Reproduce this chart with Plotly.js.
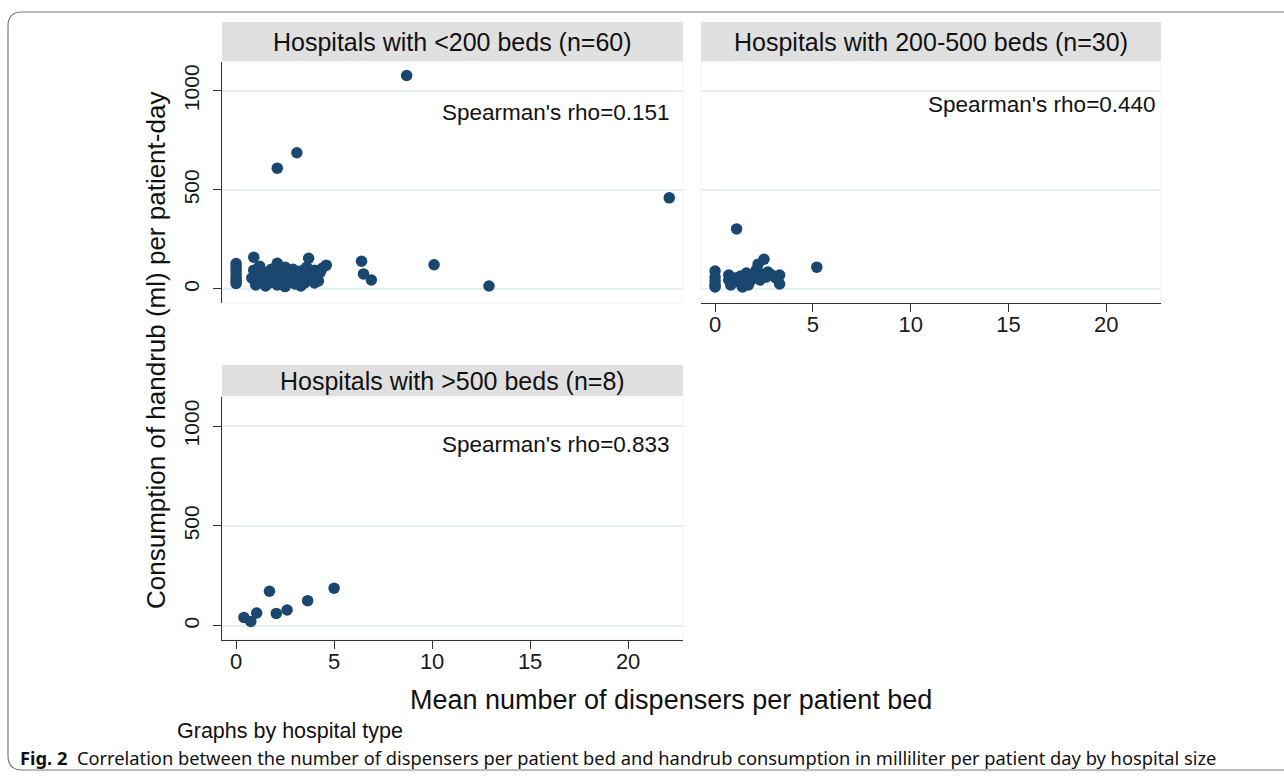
<!DOCTYPE html>
<html>
<head>
<meta charset="utf-8">
<script src="https://cdn.plot.ly/plotly-3.0.1.min.js"></script>
<style>html,body{margin:0;padding:0;background:#fff;}#chart{width:1284px;height:782px;}</style>
</head>
<body>
<div id="chart"></div>
<script>
// Panel titles and Spearman annotations
const panelTitles = ["Hospitals with &lt;200 beds (n=60)", "Hospitals with 200-500 beds (n=30)", "Hospitals with &gt;500 beds (n=8)"];
const rhoLabels = ["Spearman's rho=0.151", "Spearman's rho=0.440", "Spearman's rho=0.833"];
const xTickVals = [0, 5, 10, 15, 20];
const yTickVals = [0, 500, 1000];

// <200 beds (n=60)
const smallX = [0,0,0,0,0,0,0,
  0.9,0.9,0.8,1.0,1.1,1.3,1.4,1.5,1.6,1.7,1.8,1.9,2.0,2.1,2.1,2.2,2.3,2.4,2.5,2.6,2.7,2.8,2.9,3.0,3.1,3.2,3.3,3.4,3.5,3.6,3.7,3.8,3.9,4.0,4.1,4.2,4.3,4.4,4.6,1.2,2.5,3.3,0.95,4.0,
  8.7,3.1,2.1,22.1,6.4,6.5,6.9,10.1,12.9];
const smallY = [28,42,58,75,95,112,128,
  160,95,55,20,70,40,85,15,60,30,100,50,75,130,20,45,95,65,110,35,80,55,100,25,70,45,90,60,30,110,155,75,50,95,65,40,85,105,120,115,12,15,40,30,
  1078,688,610,460,140,76,45,122,15];

// 200-500 beds (n=30)
const midX = [0,0,0,0,0,0.7,0.7,0.8,1.0,1.2,1.3,1.5,1.6,1.7,1.8,2.0,2.1,2.2,2.3,2.4,2.5,2.6,2.7,2.9,3.1,3.3,3.3,1.4,1.1,5.2];
const midY = [90,60,40,20,10,70,45,20,55,35,65,50,80,20,40,60,95,125,45,75,150,60,85,70,55,70,25,10,303,110];

// >500 beds (n=8)
const largeX = [1.7,5.0,3.65,2.6,2.05,0.4,0.75,1.05];
const largeY = [173,188,126,79,62,42,22,64];

const W = 1284, H = 782;
const px = v => v / W;
const py = v => 1 - v / H;

const navy = '#1a476f';
const fontMain = 'Liberation Sans, Arial, sans-serif';
const marker = {color: navy, size: 11.5, line: {width: 0}};

const traces = [
  {x: smallX, y: smallY, xaxis: 'x', yaxis: 'y', type: 'scatter', mode: 'markers', marker: marker, hoverinfo: 'x+y'},
  {x: midX, y: midY, xaxis: 'x2', yaxis: 'y2', type: 'scatter', mode: 'markers', marker: marker, hoverinfo: 'x+y'},
  {x: largeX, y: largeY, xaxis: 'x3', yaxis: 'y3', type: 'scatter', mode: 'markers', marker: marker, hoverinfo: 'x+y'}
];

const xRange = [-0.72, 22.8];
const yRange = [-71, 1146];
const gridCol = '#e6eff1';

const dom1x = [px(222), px(683)];
const dom2x = [px(701), px(1161)];
const domTopY = [py(303), py(62)];
const domBotY = [py(640), py(397)];

function xa(domain, anchor, show) {
  return {domain: domain, anchor: anchor, range: xRange, tickvals: xTickVals,
    showgrid: false, zeroline: false, showline: show, linecolor: '#333', linewidth: 1.3,
    ticks: show ? 'outside' : '', ticklen: 8, tickcolor: '#333', showticklabels: show,
    ticklabelstandoff: -7,
    tickfont: {family: fontMain, size: 22, color: '#1a1a1a'}, fixedrange: true};
}
function ya(domain, anchor, show) {
  return {domain: domain, anchor: anchor, range: yRange, tickvals: yTickVals,
    showgrid: true, gridcolor: gridCol, gridwidth: 1.5, zeroline: false,
    showline: show, linecolor: '#333', linewidth: 1.3,
    ticks: show ? 'outside' : '', ticklen: 8, tickcolor: '#333', showticklabels: show,
    ticklabelstandoff: 5,
    tickangle: -90, tickfont: {family: fontMain, size: 21, color: '#1a1a1a'}, fixedrange: true};
}

const shapes = [
  // strips
  {type: 'rect', xref: 'paper', yref: 'paper', x0: px(222), x1: px(683), y0: py(61), y1: py(22), fillcolor: '#e0e0e0', line: {width: 0}, layer: 'below'},
  {type: 'rect', xref: 'paper', yref: 'paper', x0: px(701), x1: px(1161), y0: py(61), y1: py(22), fillcolor: '#e0e0e0', line: {width: 0}, layer: 'below'},
  {type: 'rect', xref: 'paper', yref: 'paper', x0: px(222), x1: px(683), y0: py(396), y1: py(365), fillcolor: '#e0e0e0', line: {width: 0}, layer: 'below'},
  // faint panel frames
  {type: 'rect', xref: 'paper', yref: 'paper', x0: dom1x[0], x1: dom1x[1], y0: domTopY[0], y1: domTopY[1], line: {color: '#eef3f4', width: 1}, layer: 'below'},
  {type: 'rect', xref: 'paper', yref: 'paper', x0: dom2x[0], x1: dom2x[1], y0: domTopY[0], y1: domTopY[1], line: {color: '#eef3f4', width: 1}, layer: 'below'},
  {type: 'rect', xref: 'paper', yref: 'paper', x0: dom1x[0], x1: dom1x[1], y0: domBotY[0], y1: domBotY[1], line: {color: '#eef3f4', width: 1}, layer: 'below'}
];
// outer rounded frame
(function(){
  const l = px(8), r = px(1300), t = py(12), b = py(770);
  const rx = 14 / W, ry = 14 / H;
  const path = `M ${r} ${t} L ${l + rx} ${t} Q ${l} ${t} ${l} ${t - ry} L ${l} ${b + ry} Q ${l} ${b} ${l + rx} ${b} L ${r} ${b}`;
  shapes.push({type: 'path', xref: 'paper', yref: 'paper', path: path, line: {color: '#7a7a7a', width: 1.2}});
})();

function ann(text, x, y, size, xanchor, extra) {
  return Object.assign({text: text, xref: 'paper', yref: 'paper', x: px(x), y: py(y), xanchor: xanchor, yanchor: 'middle',
    showarrow: false, font: {family: fontMain, size: size, color: '#111'}}, extra || {});
}

const annotations = [
  ann(panelTitles[0], 452, 42, 25, 'center'),
  ann(panelTitles[1], 931, 42, 25, 'center'),
  ann(panelTitles[2], 452, 381, 25, 'center'),
  ann(rhoLabels[0], 672, 112, 22.5, 'right'),
  ann(rhoLabels[1], 1158, 104, 22.5, 'right'),
  ann(rhoLabels[2], 672, 444, 22.5, 'right'),
  ann('Consumption of handrub (ml) per patient-day', 156, 351, 26, 'center', {textangle: -90}),
  ann('Mean number of dispensers per patient bed', 671, 700, 27, 'center'),
  ann('Graphs by hospital type', 175, 731, 21.5, 'left'),
  ann('<b>Fig. 2</b>  Correlation between the number of dispensers per patient bed and handrub consumption in milliliter per patient day by hospital size', 18, 757, 18.3, 'left', {font: {family: 'Noto Sans, sans-serif', size: 18.3, color: '#111'}})
];

const layout = {
  width: W, height: H,
  margin: {l: 0, r: 0, t: 0, b: 0},
  paper_bgcolor: '#fff', plot_bgcolor: '#fff',
  showlegend: false,
  xaxis: xa(dom1x, 'y', false),
  yaxis: ya(domTopY, 'x', true),
  xaxis2: xa(dom2x, 'y2', true),
  yaxis2: ya(domTopY, 'x2', false),
  xaxis3: xa(dom1x, 'y3', true),
  yaxis3: ya(domBotY, 'x3', true),
  shapes: shapes,
  annotations: annotations
};

Plotly.newPlot('chart', traces, layout, {displayModeBar: false, staticPlot: true});
</script>
</body>
</html>
